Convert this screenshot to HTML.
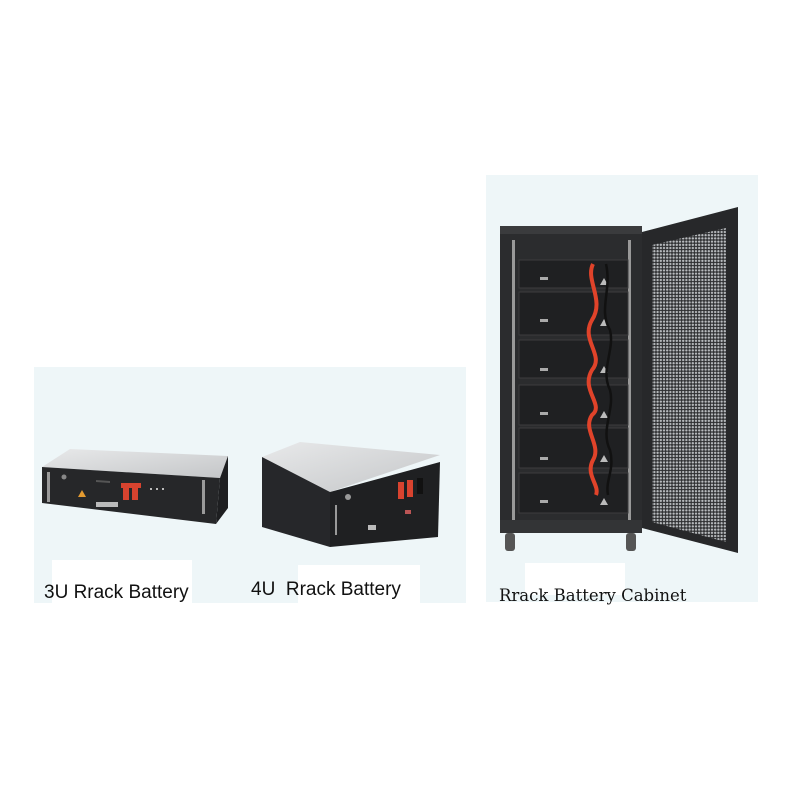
<!DOCTYPE html>
<html><head><meta charset="utf-8"><style>
html,body{margin:0;padding:0;background:#fff;}
svg{display:block;}
</style></head><body>
<svg width="800" height="800" viewBox="0 0 800 800" xmlns="http://www.w3.org/2000/svg">
<defs>
<pattern id="perf" width="3.2" height="3.2" patternUnits="userSpaceOnUse">
<rect width="3.2" height="3.2" fill="#2e2f31"/>
<circle cx="1.6" cy="1.6" r="1.15" fill="#b9bcbf"/>
</pattern>
<linearGradient id="topg" x1="0" y1="0" x2="1" y2="1">
<stop offset="0" stop-color="#e8e9ea"/><stop offset="1" stop-color="#c4c6c8"/>
</linearGradient>
</defs>
<rect x="0" y="0" width="800" height="800" fill="#fff"/>
<rect x="34" y="367" width="432" height="236" fill="#eef6f8"/>
<rect x="486" y="175" width="272" height="427" fill="#eef6f8"/>
<rect x="52" y="560" width="140" height="48" fill="#fff"/>
<rect x="298" y="565" width="122" height="38" fill="#fff"/>
<rect x="525" y="563" width="100" height="32" fill="#fff"/>

<polygon points="70,449 228,456 220,478 42,467" fill="url(#topg)"/>
<polygon points="220,478 228,456 228,508 216,524" fill="#1e1f21"/>
<polygon points="42,467 220,478 216,524 42,503" fill="#262729"/>
<rect x="47" y="472" width="3" height="30" fill="#9a9a9a"/>
<rect x="202" y="480" width="3" height="34" fill="#9a9a9a"/>
<circle cx="64" cy="477" r="2.5" fill="#888"/>
<polygon points="78,497 86,497 82,490" fill="#e39a30"/>
<polygon points="96,480 110,481 110,483 96,482" fill="#555"/>
<rect x="123" y="486" width="6" height="14" fill="#d8432f"/>
<rect x="132" y="486" width="6" height="14" fill="#d8432f"/>
<rect x="121" y="483" width="20" height="5" fill="#d8432f"/>
<rect x="96" y="502" width="22" height="5" fill="#bbb"/>
<rect x="150" y="488" width="2" height="2" fill="#bbb"/><rect x="156" y="488" width="2" height="2" fill="#bbb"/><rect x="162" y="488" width="2" height="2" fill="#bbb"/>

<polygon points="262,457 300,442 440,455 330,492" fill="url(#topg)"/>
<polygon points="262,457 330,492 330,547 262,527" fill="#26272a"/>
<polygon points="330,492 440,462 438,537 330,547" fill="#1f2022"/>
<rect x="335" y="505" width="2" height="30" fill="#999"/>
<circle cx="348" cy="497" r="3" fill="#999"/>
<rect x="398" y="482" width="6" height="17" fill="#d8432f"/>
<rect x="407" y="480" width="6" height="17" fill="#d8432f"/>
<rect x="417" y="478" width="6" height="16" fill="#111"/>
<rect x="368" y="525" width="8" height="5" fill="#bbb"/>
<rect x="405" y="510" width="6" height="4" fill="#b55"/>

<rect x="500" y="226" width="142" height="307" fill="#2b2c2e"/>
<rect x="500" y="226" width="142" height="8" fill="#3a3b3d"/>
<rect x="512" y="240" width="3" height="285" fill="#999"/>
<rect x="628" y="240" width="3" height="285" fill="#999"/>
<rect x="500" y="520" width="142" height="13" fill="#333436"/>
<rect x="505" y="533" width="10" height="18" rx="3" fill="#555"/>
<rect x="626" y="533" width="10" height="18" rx="3" fill="#555"/>
<g fill="#1f2022" stroke="#3c3d3f" stroke-width="1">
<rect x="519" y="260" width="109" height="28"/>
<rect x="519" y="292" width="109" height="43"/>
<rect x="519" y="340" width="109" height="38"/>
<rect x="519" y="385" width="109" height="40"/>
<rect x="519" y="428" width="109" height="40"/>
<rect x="519" y="473" width="109" height="40"/>
</g>
<g fill="#aaa">
<rect x="540" y="277" width="8" height="3"/><rect x="540" y="319" width="8" height="3"/><rect x="540" y="368" width="8" height="3"/><rect x="540" y="412" width="8" height="3"/><rect x="540" y="457" width="8" height="3"/><rect x="540" y="500" width="8" height="3"/>
</g>
<g fill="#bbb">
<polygon points="600,285 608,285 604,278"/><polygon points="600,326 608,326 604,319"/><polygon points="600,373 608,373 604,366"/><polygon points="600,418 608,418 604,411"/><polygon points="600,462 608,462 604,455"/><polygon points="600,505 608,505 604,498"/>
</g>
<path d="M593,264 C585,280 605,300 592,320 C580,340 605,355 592,370 C580,390 605,405 592,415 C582,430 602,445 593,460 C585,475 600,485 596,495" stroke="#e0432a" stroke-width="4" fill="none"/>
<path d="M606,264 C612,290 598,310 610,330 C615,350 600,370 610,390 C615,410 600,430 610,450 C615,470 605,480 608,495" stroke="#111" stroke-width="2.5" fill="none"/>

<polygon points="642,232 738,207 738,553 642,528" fill="#27282a"/>
<polygon points="652,245 726,228 726,542 652,522" fill="url(#perf)"/>

<text x="44" y="598" font-family="Liberation Sans, sans-serif" font-size="19" fill="#111">3U Rrack Battery</text>
<text x="251" y="595" font-family="Liberation Sans, sans-serif" font-size="19" fill="#111" xml:space="preserve">4U  Rrack Battery</text>
<text x="499" y="601" font-family="DejaVu Serif, serif" font-size="16.5" fill="#111">Rrack Battery Cabinet</text>
</svg>
</body></html>
